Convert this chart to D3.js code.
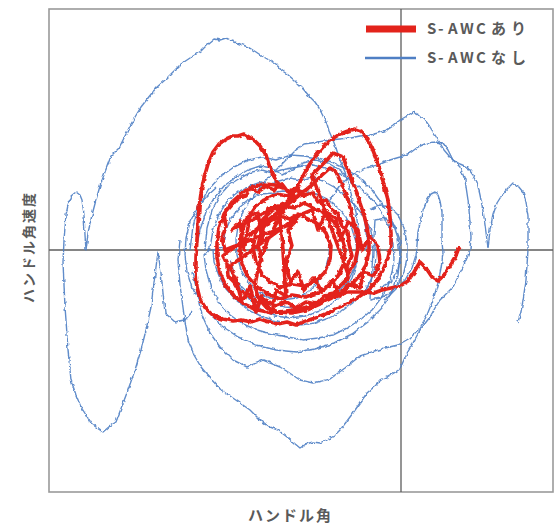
<!DOCTYPE html>
<html>
<head>
<meta charset="utf-8">
<script src="https://cdn.jsdelivr.net/npm/d3@7"></script>
<style>
  html, body { margin: 0; padding: 0; background: #ffffff; }
  svg { display: block; }
</style>
</head>
<body>
<svg id="chart" width="555" height="525"></svg>
<script>
// Steering angle (x) vs. steering angular velocity (y) phase traces.
const xDomain = [-352, 152];
const yDomain = [-242, 241];

const seriesNames = ["S-AWCあり", "S-AWCなし"];
const axisTitles = { x: "ハンドル角", y: "ハンドル角速度" };

// S-AWC off: several recorded stretches of the trace
const offTraceA = [[-209,-62],[-216,-70],[-226,-72],[-236,-63],[-240,-23],[-243,-2],[-245,-17],[-248,-40],[-250,-57],[-255,-80],[-260,-100],[-266,-120],[-273,-140],[-279,-156],[-285,-172],[-291,-176],[-298,-182],[-304,-178],[-310,-173],[-315,-165],[-320,-157],[-325,-145],[-330,-130],[-333,-100],[-335,-70],[-336,-57],[-337,-35],[-338,-12],[-337,10],[-335,35],[-333,45],[-330,54],[-325,58],[-321,55],[-319,50],[-317,35],[-316,15],[-315,0],[-313,17],[-309,35],[-305,50],[-301,64],[-296,78],[-290,94],[-286,98],[-282,102],[-277,112],[-271,124],[-266,133],[-260,143],[-253,152],[-245,162],[-236,170],[-228,178],[-220,186],[-211,192],[-200,199],[-193,206],[-187,211],[-181,210],[-175,212],[-169,209],[-161,206],[-153,203],[-145,198],[-139,194],[-132,190],[-125,186],[-120,180],[-114,176],[-107,170],[-102,165],[-97,160],[-91,153],[-86,148],[-82,142],[-78,134],[-74,126],[-72,119],[-68,110],[-65,102],[-61,90],[-56,78],[-52,65],[-49,52],[-45,38],[-43,22],[-42,5],[-44,-12],[-49,-28],[-57,-42],[-68,-53],[-81,-61],[-96,-66],[-111,-68],[-126,-66],[-139,-60],[-151,-50],[-161,-38],[-167,-25],[-170,-10]];

const offTraceB = [[-221,10],[-223,-10],[-221,-35],[-217,-65],[-213,-90],[-207,-105],[-200,-117],[-191,-128],[-180,-140],[-171,-146],[-161,-153],[-151,-160],[-141,-170],[-131,-177],[-123,-180],[-114,-187],[-107,-193],[-101,-198],[-95,-194],[-88,-192],[-81,-193],[-74,-190],[-67,-186],[-61,-180],[-54,-171],[-48,-163],[-41,-153],[-34,-143],[-26,-136],[-20,-130],[-14,-127],[-7,-123],[-1,-119],[5,-105],[12,-93],[19,-80],[29,-67],[34,-58],[39,-50],[46,-43],[52,-37],[57,-27],[62,-17],[66,-8],[69,0],[70,13],[69,27],[68,40],[67,50],[64,70],[59,83],[54,88],[49,93],[43,100],[39,107],[34,115],[29,123],[24,130],[18,135],[12,138],[6,134],[-1,130],[-8,124],[-14,120],[-23,117],[-31,115],[-41,114],[-51,112],[-61,111],[-71,110],[-83,108],[-97,106],[-105,100],[-112,93],[-120,85],[-127,78],[-135,70],[-143,60],[-151,50],[-158,38],[-163,24],[-165,10],[-164,-5],[-160,-20],[-153,-32],[-143,-42],[-131,-48],[-118,-50],[-105,-48],[-93,-42],[-83,-32],[-76,-20],[-72,-5],[-71,10]];

const offTraceC = [[-71,50],[-61,65],[-49,75],[-36,82],[-23,85],[-11,90],[-1,93],[9,97],[17,103],[26,107],[34,108],[42,107],[47,100],[52,90],[59,86],[66,83],[72,75],[76,68],[79,55],[82,40],[84,25],[86,10],[87,2],[89,20],[92,35],[96,47],[101,55],[107,62],[112,67],[117,64],[122,58],[125,48],[127,33],[127,18],[127,0],[126,-15],[125,-30],[122,-50],[120,-62],[117,-72]];

const offTraceD = [[-16,-50],[-6,-40],[4,-30],[11,-18],[15,-5],[16,5],[17,18],[19,28],[22,40],[26,50],[30,56],[34,58],[37,55],[39,49],[41,38],[41,25],[41,10],[42,-3],[40,-18],[37,-33],[32,-50],[26,-65],[19,-78],[9,-88],[-3,-95],[-16,-98],[-29,-102],[-41,-106],[-56,-118],[-71,-129],[-88,-133],[-101,-130],[-113,-122],[-121,-117],[-138,-110],[-154,-117],[-168,-110],[-181,-97],[-191,-83],[-199,-65],[-204,-45],[-206,-22],[-205,0],[-201,20],[-195,38],[-187,52],[-177,64],[-165,73],[-153,80],[-141,84],[-129,82],[-119,75],[-109,80],[-98,87],[-86,90],[-73,87],[-61,80],[-51,70],[-43,55],[-38,38],[-35,20],[-34,0]];

const offTraceE = [[-196,0],[-194,22],[-189,40],[-181,55],[-172,65],[-161,72],[-149,78],[-139,80],[-129,77],[-120,80],[-109,82],[-98,84],[-88,85],[-76,82],[-65,78],[-53,72],[-43,64],[-33,55],[-24,45],[-17,33],[-11,20],[-8,5],[-7,-8],[-9,-22],[-13,-36],[-20,-48],[-29,-60],[-41,-70],[-54,-78],[-68,-85],[-83,-88],[-98,-90],[-113,-87],[-129,-84],[-144,-80],[-158,-74],[-171,-65],[-182,-53],[-190,-38],[-195,-20],[-197,-5],
  [-191,2],[-188,20],[-182,36],[-173,50],[-163,58],[-151,64],[-140,68],[-131,65],[-122,69],[-111,72],[-100,70],[-89,73],[-78,69],[-67,63],[-56,55],[-47,46],[-39,36],[-32,24],[-27,10],[-25,-4],[-26,-18],[-30,-31],[-37,-42],[-47,-52],[-59,-61],[-72,-68],[-86,-73],[-101,-75],[-115,-73],[-129,-70],[-142,-65],[-154,-59],[-165,-50],[-175,-39],[-182,-26],[-187,-12],[-188,0],
  [-179,2],[-176,18],[-170,32],[-161,43],[-151,51],[-140,56],[-129,57],[-118,59],[-107,58],[-96,60],[-85,56],[-74,51],[-64,43],[-55,33],[-49,21],[-45,8],[-44,-6],[-47,-19],[-53,-31],[-62,-41],[-74,-49],[-87,-55],[-102,-58],[-116,-57],[-130,-54],[-143,-49],[-154,-42],[-164,-32],[-171,-20],[-176,-8]];

const offTraceF = [[-31,40],[-21,45],[-11,43],[-3,35],[3,22],[6,7],[6,-8],[3,-22],[-3,-34],[-11,-43],[-21,-48],[-31,-50],[-26,30],[-15,32],[-6,24],[-1,10],[0,-5],[-3,-20],[-10,-32],[-21,-38]];

const offTraceG = [[-201,-50],[-209,-38],[-214,-22],[-216,-5],[-215,12],[-211,28],[-204,42],[-195,53],[-185,62]];

const offTraceH = [[-211,0],[-208,24],[-202,44],[-193,60],[-181,73],[-167,83],[-153,90],[-139,93],[-125,90],[-111,95],[-97,94],[-83,92],[-69,88],[-55,81],[-41,72],[-29,60],[-19,46],[-9,30],[-3,12],[-1,-6],[-3,-25],[-9,-42],[-19,-58],[-33,-72],[-49,-84],[-67,-93],[-86,-99],[-105,-102],[-125,-100],[-145,-95],[-163,-87],[-179,-76],[-193,-62],[-203,-44],[-209,-22]];

const offTraces = [offTraceA, offTraceB, offTraceC, offTraceD, offTraceE, offTraceF, offTraceG, offTraceH];

// S-AWC on: one continuous trace
const onTrace = [[-139,-12],[-143,5],[-139,20],[-131,29],[-121,34],[-111,31],[-103,36],[-93,31],[-83,26],[-75,17],[-70,4],[-71,-10],[-76,-22],[-85,-31],[-96,-36],[-108,-34],[-120,-37],[-131,-32],[-139,-24],[-145,-12],[-148,2],[-145,18],[-138,31],[-128,40],[-117,44],[-106,42],[-97,47],[-87,42],[-76,36],[-67,28],[-60,16],[-56,2],[-57,-13],[-63,-26],[-72,-36],[-83,-43],[-96,-47],[-109,-45],[-121,-49],[-133,-44],[-144,-37],[-153,-27],[-159,-14],[-161,0],[-160,15],[-155,30],[-147,42],[-137,50],[-125,56],[-113,54],[-103,60],[-98,57],
  [-169,20],[-161,28],[-157,0],[-151,34],[-143,38],[-139,10],[-133,42],[-123,44],[-119,14],[-115,-46],[-125,-40],[-129,-62],[-139,-46],[-145,-62],[-151,-36],[-159,-52],[-165,-30],[-171,-16],
  [-101,35],[-89,40],[-83,20],[-75,38],[-65,32],[-61,10],[-53,28],[-43,20],[-39,0],[-31,14],[-23,4],[-21,-12],[-27,-26],[-37,-22],[-41,-38],[-53,-34],[-61,-46],[-69,-30],[-79,-42],[-87,-28],[-97,-40],[-103,-22],[-111,-32],[-115,-12],[-109,4],[-113,20],[-105,28],
  [-176,0],[-179,12],[-175,24],[-177,36],[-169,45],[-163,52],[-155,54],[-151,62],[-143,58],[-135,64],[-127,60],[-119,66],[-113,58],[-105,62],[-97,54],[-89,58],[-83,48],[-75,50],[-69,40],[-63,36],[-59,24],[-53,18],[-52,6],[-49,-6],[-54,-16],[-53,-28],[-61,-36],[-67,-44],[-77,-46],[-85,-54],[-95,-52],[-105,-58],[-115,-52],[-125,-56],[-135,-50],[-145,-52],[-153,-44],[-161,-42],[-167,-32],[-173,-26],[-174,-14],[-178,-6],
  [-89,65],[-79,75],[-71,82],[-65,78],[-59,65],[-53,50],[-49,35],[-45,18],[-43,2],[-46,-12],[-53,-24],
  [-89,75],[-81,83],[-74,90],[-68,97],[-63,95],[-58,93],[-53,80],[-48,67],[-44,57],[-41,47],[-37,35],[-34,23],[-32,10],[-32,-2],[-35,-15],[-41,-25],[-49,-34],[-60,-42],[-73,-49],[-87,-55],[-101,-59],[-115,-61],[-129,-63],[-143,-60],[-155,-55],[-166,-47],[-175,-36],[-181,-23],[-184,-8],[-184,7],[-182,22],[-177,36],[-169,48],[-159,57],[-148,63],[-137,66],[-126,65],[-118,62],
  [-125,69],[-131,82],[-135,95],[-141,104],[-146,109],[-152,113],[-157,116],[-163,114],[-168,114],[-175,111],[-182,106],[-188,98],[-193,86],[-197,72],[-200,57],[-202,42],[-203,26],[-204,10],[-205,-6],[-205,-22],[-204,-37],[-201,-49],[-195,-59],[-187,-66],[-178,-69],[-168,-71],[-159,-70],[-150,-72],[-141,-69],[-132,-72],[-123,-74],[-114,-72],[-105,-75],
  [-95,-71],[-83,-67],[-71,-62],[-59,-56],[-47,-50],[-35,-42],[-25,-32],[-18,-20],[-13,-8],[-10,5],[-10,18],[-11,33],[-13,50],[-17,65],[-21,80],[-25,92],[-29,102],[-34,112],[-40,119],[-46,121],[-53,119],[-61,116],[-69,111],[-77,104],[-85,95],[-92,85],[-98,74],[-104,62],[-111,50],[-118,38],[-126,24],[-133,10],[-139,-5],[-143,-20],[-146,-35],[-143,-48],[-135,-57],[-123,-62],[-109,-63],[-95,-60],[-81,-54],[-67,-47],[-53,-42],[-39,-42],[-27,-43],
  [-19,-40],[-10,-38],[-1,-36],[7,-31],[13,-22],[19,-12],[25,-18],[31,-27],[37,-31],[43,-25],[49,-16],[54,-8],[57,0],[59,3]];

const colors = { on: "#e3231b", off: "#4f7fc4" };
const textColor = "#5a5a5a";
const fontFamily = "'Noto Sans CJK JP', 'Noto Sans', sans-serif";

const svg = d3.select("#chart");
const x = d3.scaleLinear().domain(xDomain).range([49, 553]);
const y = d3.scaleLinear().domain(yDomain).range([492, 9]);

// sensor noise look for the recorded traces
const defs = svg.append("defs");
const jitter = defs.append("filter").attr("id", "jitter")
  .attr("x", "-5%").attr("y", "-5%").attr("width", "110%").attr("height", "110%");
jitter.append("feTurbulence").attr("type", "fractalNoise").attr("baseFrequency", 0.22)
  .attr("numOctaves", 2).attr("seed", 4).attr("result", "noise");
jitter.append("feDisplacementMap").attr("in", "SourceGraphic").attr("in2", "noise")
  .attr("scale", 3.5).attr("xChannelSelector", "R").attr("yChannelSelector", "G");

// frame
svg.append("rect")
  .attr("x", x(xDomain[0])).attr("y", y(yDomain[1]))
  .attr("width", x(xDomain[1]) - x(xDomain[0]))
  .attr("height", y(yDomain[0]) - y(yDomain[1]))
  .attr("fill", "none").attr("stroke", "#9a9a9a").attr("stroke-width", 1.6);

// zero lines
svg.append("line")
  .attr("x1", x(0)).attr("x2", x(0)).attr("y1", y(yDomain[1])).attr("y2", y(yDomain[0]))
  .attr("stroke", "#5c5c5c").attr("stroke-width", 1.3);
svg.append("line")
  .attr("x1", x(xDomain[0])).attr("x2", x(xDomain[1])).attr("y1", y(0)).attr("y2", y(0))
  .attr("stroke", "#5c5c5c").attr("stroke-width", 1.3);

const line = d3.line().x(d => x(d[0])).y(d => y(d[1])).curve(d3.curveLinear);

svg.append("g").attr("filter", "url(#jitter)")
  .selectAll("path").data(offTraces).join("path")
  .attr("d", line)
  .attr("fill", "none").attr("stroke", colors.off)
  .attr("stroke-width", 1.4).attr("stroke-linejoin", "round").attr("opacity", 0.9);

svg.append("g").attr("filter", "url(#jitter)")
  .append("path").datum(onTrace)
  .attr("d", line)
  .attr("fill", "none").attr("stroke", colors.on)
  .attr("stroke-width", 3.6).attr("stroke-linejoin", "round");

// spaced-out label: one glyph per position
function spacedText(parent, str, x0, pitch) {
  return parent.append("text")
    .attr("x", Array.from(str).map((c, i) => x0 + pitch[i]).join(" "))
    .text(str);
}

// legend
const legend = svg.append("g").attr("font-family", fontFamily).attr("font-weight", "bold")
  .attr("font-size", 15).attr("fill", textColor);
legend.append("line").attr("x1", 366).attr("x2", 416).attr("y1", 29).attr("y2", 29)
  .attr("stroke", colors.on).attr("stroke-width", 7);
legend.append("line").attr("x1", 365).attr("x2", 416).attr("y1", 58).attr("y2", 58)
  .attr("stroke", colors.off).attr("stroke-width", 2.5);
const legendPitch = [0, 11, 21, 33, 49, 64, 84];
spacedText(legend, seriesNames[0], 427, legendPitch).attr("y", 34);
spacedText(legend, seriesNames[1], 427, legendPitch).attr("y", 63);

// axis titles
const xt = svg.append("g").attr("font-family", fontFamily).attr("font-weight", "bold")
  .attr("font-size", 15).attr("fill", textColor);
spacedText(xt, axisTitles.x, 248, [0, 17, 34, 51, 68]).attr("y", 521);

const yt = svg.append("g").attr("font-family", fontFamily).attr("font-weight", "bold")
  .attr("font-size", 14).attr("fill", textColor)
  .attr("transform", "translate(34,303) rotate(-90)");
spacedText(yt, axisTitles.y, 0, [0, 16, 32, 48, 64, 80, 96]).attr("y", 0);
</script>
</body>
</html>
